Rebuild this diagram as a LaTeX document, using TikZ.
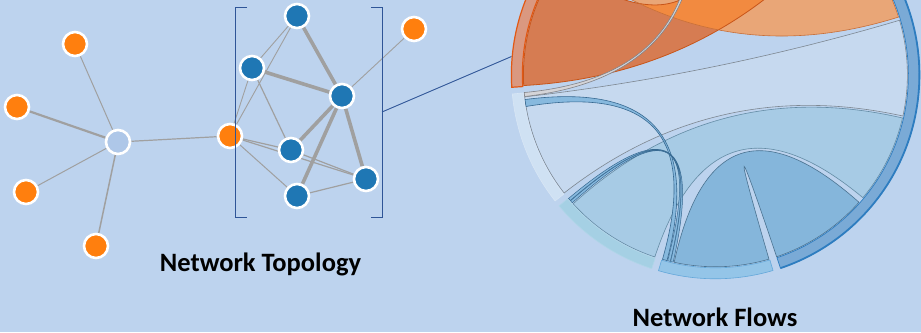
\documentclass[tikz,border=0pt]{standalone}
\usepackage{fontspec}
\setmainfont{Carlito}
\usetikzlibrary{calc,backgrounds}
\definecolor{bg}{RGB}{189,211,238}
\definecolor{orN}{RGB}{255,127,14}
\definecolor{blN}{RGB}{31,119,180}
\definecolor{ltN}{RGB}{174,199,232}
\definecolor{edgegray}{RGB}{160,160,160}
\definecolor{brk}{RGB}{47,85,151}
\definecolor{rWhite}{RGB}{198,217,239}
\definecolor{rWhiteS}{RGB}{125,135,145}
\definecolor{rPale}{RGB}{167,203,229}
\definecolor{rPaleS}{RGB}{100,140,165}
\definecolor{rMed}{RGB}{133,182,219}
\definecolor{rMedS}{RGB}{75,115,145}
\definecolor{rStr}{RGB}{135,185,222}
\definecolor{rStrS}{RGB}{55,105,145}
\definecolor{oDark}{RGB}{214,124,82}
\definecolor{oDarkS}{RGB}{200,85,25}
\definecolor{oPeach}{RGB}{233,166,119}
\definecolor{oPeachS}{RGB}{200,110,55}
\definecolor{oBright}{RGB}{242,138,64}
\definecolor{gFill}{RGB}{212,212,216}
\definecolor{gLine}{RGB}{130,130,135}
\definecolor{sgOr}{RGB}{218,152,128}
\definecolor{sgOrS}{RGB}{226,88,20}
\definecolor{sgWh}{RGB}{207,225,243}
\definecolor{sgWhS}{RGB}{216,230,245}
\definecolor{sgPa}{RGB}{165,208,228}
\definecolor{sgPaS}{RGB}{175,214,232}
\definecolor{sgMe}{RGB}{148,197,232}
\definecolor{sgMeS}{RGB}{100,168,218}
\definecolor{sgDk}{RGB}{122,170,214}
\definecolor{sgDkS}{RGB}{46,125,192}
\newcommand\rib[4]{(-#1:192) arc[start angle=-#1,end angle=-#2,radius=192] .. controls (-#2:64) and (-#3:64) .. (-#3:192) arc[start angle=-#3,end angle=-#4,radius=192] .. controls (-#4:64) and (-#1:64) .. (-#1:192) -- cycle}
\newcommand\seg[2]{(-#1:193) arc[start angle=-#1,end angle=-#2,radius=193] -- (-#2:204) arc[start angle=-#2,end angle=-#1,radius=204] -- cycle}
\tikzset{
  nd/.style={circle, draw=white, line width=2.6pt, minimum size=24pt, inner sep=0pt},
  ornd/.style={nd, fill=orN},
  blnd/.style={nd, fill=blN},
  ltnd/.style={nd, fill=ltN},
  ed/.style={draw=edgegray, line width=#1pt},
  brkline/.style={draw=brk, line width=1pt},
  ttl/.style={font=\bfseries\fontsize{26.5}{30}\selectfont, anchor=base, inner sep=0pt}
}
\begin{document}
\begin{tikzpicture}[x=1pt,y=1pt]
\useasboundingbox (0,0) rectangle (921,-332);
\begin{scope}[on background layer]
\fill[bg] (0,0) rectangle (921,-332);
\end{scope}
\clip (0,0) rectangle (921,-332);

% ---------- Network topology ----------
\node[ornd] (o1) at (75,-44) {};
\node[ornd] (o2) at (17,-107) {};
\node[ornd] (o3) at (26,-192) {};
\node[ornd] (o4) at (96,-246) {};
\node[ltnd] (c0) at (118,-142) {};
\node[ornd] (o5) at (230,-136) {};
\node[blnd] (b1) at (297,-16) {};
\node[blnd] (b2) at (252,-68) {};
\node[blnd] (b3) at (342,-96) {};
\node[blnd] (b4) at (291,-150) {};
\node[blnd] (b5) at (366,-179) {};
\node[blnd] (b6) at (297,-196) {};
\node[ornd] (o6) at (414,-29) {};

\begin{scope}[on background layer]
\draw[ed=1] (c0) -- (o1);
\draw[ed=2.2] (c0) -- (o2);
\draw[ed=1] (c0) -- (o3);
\draw[ed=1.5] (c0) -- (o4);
\draw[ed=1.2] (c0) -- (o5);
\draw[ed=0.9] (o5) -- (b1);
\draw[ed=0.9] (o5) -- (b2);
\draw[ed=1.2] (o5) -- (b4);
\draw[ed=1.2] (o5) -- (b5);
\draw[ed=1] (o5) -- (b6);
\draw[ed=0.9] (b2) -- (b1);
\draw[ed=3.6] (b2) -- (b3);
\draw[ed=1.2] (b2) -- (b4);
\draw[ed=3.6] (b1) -- (b3);
\draw[ed=3.6] (b3) -- (b4);
\draw[ed=3.6] (b3) -- (b6);
\draw[ed=3.6] (b3) -- (b5);
\draw[ed=1.2] (b4) -- (b5);
\draw[ed=1.2] (b6) -- (b5);
\draw[ed=0.9] (b3) -- (o6);
\end{scope}

% bracket
\draw[brkline] (247,-7) -- (235,-7) -- (235,-217) -- (247,-217);
\draw[brkline] (371,-7) -- (382,-7) -- (382,-217) -- (371,-217);
\coordinate (bk) at (382,-112);
\coordinate (rg) at (511.5,-56.5);
\draw[brk, line width=0.9pt] (bk) -- (rg);

\node[ttl] (t1) at (260.5,-271.5) {Network Topology};
\node[ttl] (t2) at (715,-326.5) {Network Flows};

% ---------- Chord diagram ----------
\begin{scope}[shift={(715.4,-74.8)}]
% ribbons
\filldraw[fill=rWhite, draw=rWhiteS, line width=0.6pt] \rib{142}{173.4}{343.5}{372.4};
\filldraw[fill=rPale, draw=rPaleS, line width=0.6pt] \rib{108.4}{137.8}{373}{399.8};
\filldraw[fill=rMed, draw=rMedS, line width=0.6pt] \rib{73.8}{102.4}{401.6}{431.4};
\filldraw[fill=rStr, draw=rStrS, line width=0.6pt] \rib{170.5}{172.6}{104.6}{106};
\filldraw[fill=rStr, draw=rStrS, line width=0.5pt] \rib{138.2}{139}{103.6}{104.4};
\filldraw[fill=rStr, draw=rStrS, line width=0.5pt] \rib{139.1}{139.9}{102.7}{103.5};
% orange ribbons
\fill[oDark] \rib{176.8}{215}{276}{310};
\fill[oPeach] \rib{218}{245}{315}{342.5};
\begin{scope}
\clip \rib{176.8}{215}{276}{310};
\fill[oBright] \rib{218}{245}{315}{342.5};
\end{scope}
\draw[oDarkS, line width=0.8pt] \rib{176.8}{215}{276}{310};
\draw[oPeachS, line width=0.6pt] \rib{218}{245}{315}{342.5};
% gray thin chord
\filldraw[fill=gFill, draw=gLine, line width=0.6pt] \rib{173.5}{174.7}{262}{263.6};
% ring segments
\filldraw[fill=sgOr, draw=sgOrS, line width=1.2pt] \seg{176.5}{250};
\filldraw[fill=sgWh, draw=sgWhS, line width=0.6pt] \seg{141.8}{174.6};
\filldraw[fill=sgPa, draw=sgPaS, line width=0.6pt] \seg{108.2}{140};
\filldraw[fill=sgMe, draw=sgMeS, line width=0.6pt] \seg{73.6}{106.2};
\filldraw[fill=sgDk, draw=sgDkS, line width=0.7pt] \seg{313}{431.4};
\draw[sgDkS, line width=1.8pt] (-313:204) arc[start angle=-313, end angle=-431.4, radius=204];
\end{scope}
\end{tikzpicture}
\end{document}
